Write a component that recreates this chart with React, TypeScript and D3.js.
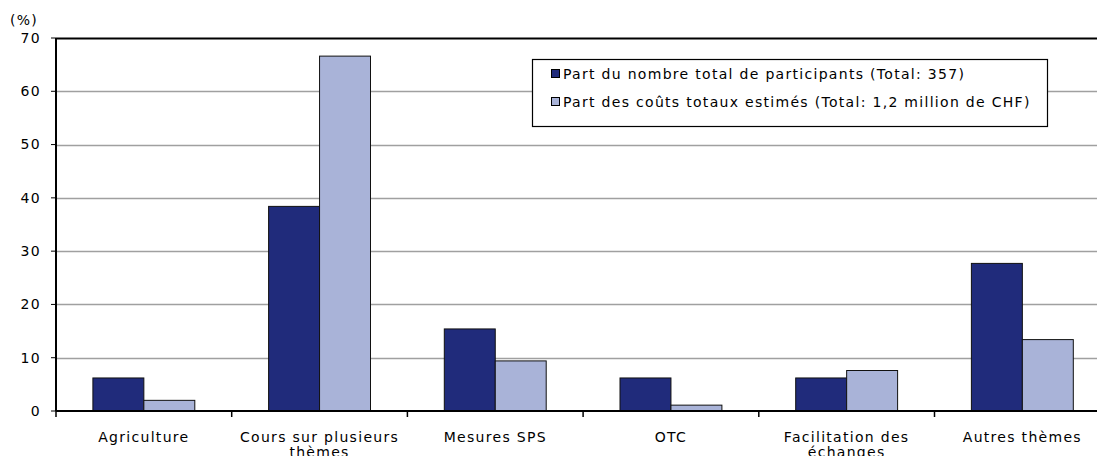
import React, { useRef, useEffect } from "react";
import * as d3 from "d3";

const categories = [
  ["Agriculture"],
  ["Cours sur plusieurs", "thèmes"],
  ["Mesures SPS"],
  ["OTC"],
  ["Facilitation des", "échanges"],
  ["Autres thèmes"],
];
const participants = [6.2, 38.4, 15.4, 6.2, 6.2, 27.7];
const costs = [2.0, 66.6, 9.4, 1.1, 7.6, 13.4];
const seriesNames = [
  "Part du nombre total de participants (Total: 357)",
  "Part des coûts totaux estimés (Total: 1,2 million de CHF)",
];
const yTicks = [0, 10, 20, 30, 40, 50, 60, 70];

const COLORS = ["#202b7b", "#a9b3d8"];
const W = 1097;
const H = 456;
const M = { top: 38, left: 56, bottom: 45 };
const FONT = "Verdana, 'DejaVu Sans', sans-serif";
const FS = 14;
const LS = 1.3;

const App = () => {
  const ref = useRef<SVGSVGElement>(null);

  useEffect(() => {
    const svg = d3.select(ref.current);
    svg.selectAll("*").remove();
    const bottom = H - M.bottom;
    const band = 175.7;
    const right = M.left + band * categories.length;

    const y = d3.scaleLinear().domain([0, 70]).range([bottom, M.top]);
    const x = d3
      .scaleBand<number>()
      .domain(categories.map((_, i) => i))
      .range([M.left, right])
      .paddingInner(0.42)
      .paddingOuter(0.21);
    const x1 = d3.scaleBand<number>().domain([0, 1]).range([0, x.bandwidth()]);

    const txt = (sel: any) =>
      sel
        .attr("font-size", FS)
        .attr("letter-spacing", LS)
        .attr("font-family", FONT)
        .attr("fill", "#000");

    // gridlines
    svg
      .append("g")
      .selectAll("line")
      .data(yTicks.filter((t) => t > 0))
      .enter()
      .append("line")
      .attr("x1", M.left)
      .attr("x2", W)
      .attr("y1", (d) => Math.round(y(d)) + 0.5)
      .attr("y2", (d) => Math.round(y(d)) + 0.5)
      .attr("stroke", (d) => (d === 70 ? "#000" : "#a0a0a0"))
      .attr("stroke-width", (d) => (d === 70 ? 2 : 1.5));

    // bars
    const series = [participants, costs];
    series.forEach((vals, s) => {
      svg
        .append("g")
        .selectAll("rect")
        .data(vals)
        .enter()
        .append("rect")
        .attr("x", (_, i) => (x(i) as number) + (x1(s) as number))
        .attr("y", (d) => y(d))
        .attr("width", x1.bandwidth())
        .attr("height", (d) => bottom - y(d))
        .attr("fill", COLORS[s])
        .attr("stroke", "#111")
        .attr("stroke-width", 1);
    });

    // y axis
    const yAxis = svg.append("g");
    yAxis
      .append("line")
      .attr("x1", M.left)
      .attr("x2", M.left)
      .attr("y1", M.top)
      .attr("y2", bottom)
      .attr("stroke", "#000")
      .attr("stroke-width", 2);
    yTicks.forEach((t) => {
      yAxis
        .append("line")
        .attr("x1", M.left - 5)
        .attr("x2", M.left)
        .attr("y1", y(t))
        .attr("y2", y(t))
        .attr("stroke", "#000")
        .attr("stroke-width", 1);
      yAxis
        .append("text")
        .call(txt)
        .attr("x", M.left - 15)
        .attr("y", y(t))
        .attr("dy", "0.35em")
        .attr("text-anchor", "end")
        .text(t);
    });
    svg.append("text").call(txt).attr("x", 10).attr("y", 25).text("(%)");

    // x axis
    const xAxis = svg.append("g");
    xAxis
      .append("line")
      .attr("x1", M.left)
      .attr("x2", W)
      .attr("y1", bottom)
      .attr("y2", bottom)
      .attr("stroke", "#000")
      .attr("stroke-width", 2);
    d3.range(categories.length + 1).forEach((i) => {
      const tx = M.left + i * band;
      xAxis
        .append("line")
        .attr("x1", tx)
        .attr("x2", tx)
        .attr("y1", bottom)
        .attr("y2", bottom + 6)
        .attr("stroke", "#000")
        .attr("stroke-width", 1.5);
    });
    categories.forEach((lines, i) => {
      const cx = (x(i) as number) + x.bandwidth() / 2;
      const t = xAxis.append("text").call(txt).attr("text-anchor", "middle");
      lines.forEach((l, k) => {
        t.append("tspan")
          .attr("x", cx)
          .attr("y", bottom + 31 + k * 14.5)
          .text(l);
      });
    });

    // legend
    const lg = svg.append("g");
    lg.append("rect")
      .attr("x", 532.5)
      .attr("y", 59.5)
      .attr("width", 515)
      .attr("height", 67)
      .attr("fill", "#fff")
      .attr("stroke", "#000")
      .attr("stroke-width", 1.2);
    seriesNames.forEach((name, s) => {
      const ly = 74 + s * 28;
      lg.append("rect")
        .attr("x", 551.5)
        .attr("y", ly - 4.5)
        .attr("width", 8)
        .attr("height", 8)
        .attr("fill", COLORS[s])
        .attr("stroke", "#000")
        .attr("stroke-width", 1);
      lg.append("text")
        .call(txt)
        .attr("x", 563)
        .attr("y", ly)
        .attr("dy", "0.35em")
        .text(name);
    });
  }, []);

  return (
    <svg
      ref={ref}
      width={W}
      height={H}
      style={{ position: "absolute", left: 0, top: 0, background: "#fff" }}
    />
  );
};

export default App;
